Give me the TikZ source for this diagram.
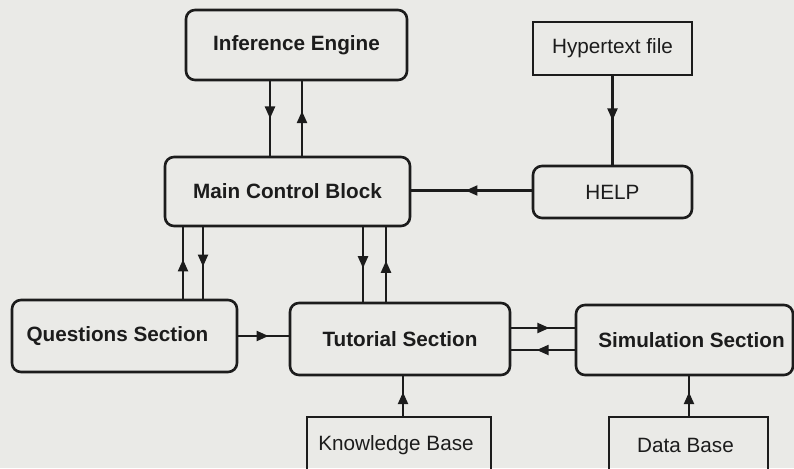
\documentclass[tikz,border=0pt]{standalone}
\usepackage{fontspec}
\setmainfont{Liberation Sans}
\usetikzlibrary{arrows.meta,decorations.markings}
\definecolor{ink}{RGB}{28,28,28}
\definecolor{paper}{RGB}{234,234,231}
\tikzset{
  rbox/.style={draw=ink, line width=2.6pt, rounded corners=9pt, text=ink,
    font=\bfseries\fontsize{20.7}{24}\selectfont, inner sep=0pt},
  hbox/.style={rbox, font=\fontsize{20.7}{24}\selectfont},
  sbox/.style={draw=ink, line width=2.2pt, text=ink,
    font=\fontsize{20.7}{24}\selectfont, inner sep=0pt},
  conn/.style={ink, line width=2.2pt},
  midarrow/.style={conn, postaction={decorate},
    decoration={markings, mark=at position #1 with {\arrow{Triangle[length=12pt,width=10pt]}}}},
  midarrow/.default=0.55
}
\begin{document}
\begin{tikzpicture}[x=1pt,y=-1pt]
\path[use as bounding box] (0,0) rectangle (794,468);
\fill[paper] (0,0) rectangle (794,468);
\clip (0,0) rectangle (794,468);

% boxes
\node[rbox, minimum width=221pt, minimum height=70pt] (IE) at (296.5,45) {Inference Engine};
\node[rbox, minimum width=245pt, minimum height=69pt] (MCB) at (287.5,191.5) {Main Control Block};
\node[sbox, minimum width=159pt, minimum height=53pt] (HT) at (612.5,48.5) {Hypertext file};
\node[hbox, minimum width=159pt, minimum height=52pt] (HELP) at (612.5,192) {HELP};
\node[rbox, minimum width=225pt, minimum height=72pt] (Q) at (124.5,336) {Questions Section\hspace*{14pt}};
\node[rbox, minimum width=220pt, minimum height=72pt] (T) at (400,339) {Tutorial Section};
\node[rbox, minimum width=217pt, minimum height=70pt] (S) at (684.5,340) {\hspace*{14pt}Simulation Section};
\node[sbox, minimum width=184pt, minimum height=56pt] (KB) at (399,445) {Knowledge Base\hspace*{6pt}};
\node[sbox, minimum width=159pt, minimum height=56pt] (DB) at (688.5,445) {Data Base\hspace*{6pt}};

% Inference Engine <-> Main Control Block
\draw[midarrow=0.5] ([xshift=-26.5pt]IE.south) -- ([xshift=-26.5pt]IE.south |- MCB.north);
\draw[midarrow=0.6] ([xshift=5.5pt]IE.south |- MCB.north) -- ([xshift=5.5pt]IE.south);

% Main Control Block <-> Questions Section
\draw[midarrow=0.55] ([xshift=-104.5pt]MCB.south |- Q.north) -- ([xshift=-104.5pt]MCB.south);
\draw[midarrow=0.55] ([xshift=-84.5pt]MCB.south) -- ([xshift=-84.5pt]MCB.south |- Q.north);

% Main Control Block <-> Tutorial Section
\draw[midarrow=0.55] ([xshift=75.5pt]MCB.south) -- ([xshift=75.5pt]MCB.south |- T.north);
\draw[midarrow=0.55] ([xshift=98.5pt]MCB.south |- T.north) -- ([xshift=98.5pt]MCB.south);

% Questions -> Tutorial
\draw[midarrow=0.6] (Q.east) -- (T.west |- Q.east);

% Tutorial <-> Simulation
\draw[midarrow=0.6] ([yshift=11pt]T.east) -- ([yshift=11pt]T.east -| S.west);
\draw[midarrow=0.6] ([yshift=-11pt]T.east -| S.west) -- ([yshift=-11pt]T.east);

% Hypertext -> HELP -> Main Control Block
\draw[midarrow=0.5] (HT.south) -- (HELP.north);
\draw[midarrow=0.55] ([yshift=1.5pt]HELP.west) -- ([yshift=1.5pt]HELP.west -| MCB.east);

% Knowledge Base -> Tutorial, Data Base -> Simulation
\draw[midarrow=0.6] ([xshift=4pt]KB.north) -- ([xshift=4pt]KB.north |- T.south);
\draw[midarrow=0.6] ([xshift=0.5pt]DB.north) -- ([xshift=0.5pt]DB.north |- S.south);
\end{tikzpicture}
\end{document}
